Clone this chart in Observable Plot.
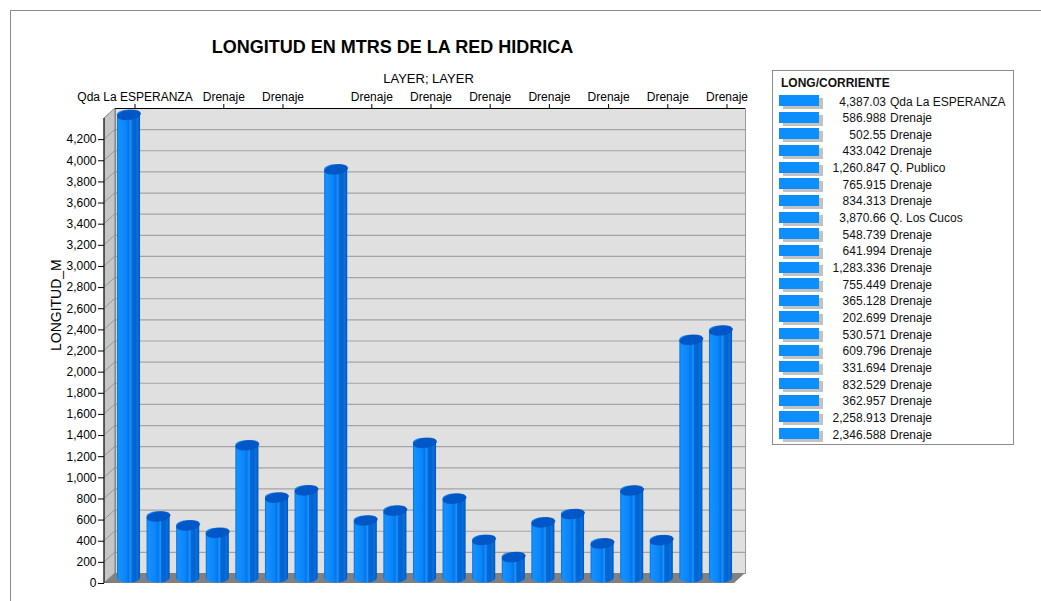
<!DOCTYPE html>
<html><head><meta charset="utf-8">
<script src="https://cdn.jsdelivr.net/npm/d3@7"></script>
<script src="https://cdn.jsdelivr.net/npm/@observablehq/plot@0.6"></script>
<style>
body{margin:0;background:#fff;font-family:"Liberation Sans",Arial,sans-serif;}
#wrap{position:relative;width:1041px;height:601px;overflow:hidden;background:#fff;}
#frameline{position:absolute;left:10px;top:10px;width:1100px;height:700px;border-top:1px solid #8c8c8c;border-left:1px solid #8c8c8c;}
#chart{position:absolute;left:0;top:0;}
.legend{position:absolute;left:772px;top:70px;width:242px;height:375px;border:1px solid #8c8c8c;box-sizing:border-box;font-size:12px;color:#111;}
.legend .lt{position:absolute;left:8px;top:5px;font-weight:bold;line-height:14px;white-space:nowrap;}
.legend .sw{position:absolute;left:6px;width:40px;height:11px;background:#0c8ffb;box-shadow:4px 3px 0 #c2c2c2;}
.legend .val{position:absolute;left:40px;width:73px;text-align:right;line-height:14px;white-space:nowrap;}
.legend .lab{position:absolute;left:117px;line-height:14px;white-space:nowrap;}
</style></head>
<body><div id="wrap"><div id="frameline"></div><div id="chart"></div></div>
<script>
const names = ["Qda La ESPERANZA","Drenaje","Drenaje","Drenaje","Q. Publico","Drenaje","Drenaje","Q. Los Cucos","Drenaje","Drenaje","Drenaje","Drenaje","Drenaje","Drenaje","Drenaje","Drenaje","Drenaje","Drenaje","Drenaje","Drenaje","Drenaje"];
const values = [4387.03,586.988,502.55,433.042,1260.847,765.915,834.313,3870.66,548.739,641.994,1283.336,755.449,365.128,202.699,530.571,609.796,331.694,832.529,362.957,2258.913,2346.588];
const valueLabels = ["4,387.03","586.988","502.55","433.042","1,260.847","765.915","834.313","3,870.66","548.739","641.994","1,283.336","755.449","365.128","202.699","530.571","609.796","331.694","832.529","362.957","2,258.913","2,346.588"];
const yTicks = d3.range(0, 4201, 200);
const yMax = 4400;
const topTickIdx = [0,3,5,8,10,12,14,16,18,20];
const title = "LONGITUD EN MTRS DE LA RED HIDRICA";
const xLabel = "LAYER; LAYER";
const yLabel = "LONGITUD_M";
const legendTitle = "LONG/CORRIENTE";

const data = values.map((v, i) => ({i, v, name: names[i]}));
const DX = 11, DY = -10;

function defs() {
  const d = d3.create("svg:defs");
  const g = d.append("linearGradient").attr("id", "cyl").attr("x1", 0).attr("x2", 1).attr("y1", 0).attr("y2", 0);
  [[0,"#006fe0"],[0.07,"#1590ff"],[0.38,"#0a86fa"],[0.5,"#0078ec"],[0.6,"#2690f6"],[0.65,"#006ad9"],[0.8,"#0063d2"],[0.88,"#0b70de"],[1,"#0057c2"]]
    .forEach(([o,c]) => g.append("stop").attr("offset", o).attr("stop-color", c));
  return d.node();
}

function walls(index, scales, vals, dim) {
  const y = scales.y;
  const x0 = dim.marginLeft, x1 = dim.width - dim.marginRight;
  const y0 = y(0), yT = y(yMax);
  const g = d3.create("svg:g");
  g.append("path").attr("d", `M${x0},${yT}L${x0+DX},${yT+DY}L${x0+DX},${y0+DY}L${x0},${y0}Z`)
    .attr("fill", "#c6c6c6").attr("stroke", "#6e6e6e").attr("stroke-width", 0.8);
  yTicks.forEach(v => {
    if (v === 0) return;
    g.append("line").attr("x1", x0).attr("y1", y(v)).attr("x2", x0+DX).attr("y2", y(v)+DY)
      .attr("stroke", "#8a8a8a").attr("stroke-width", 0.8);
  });
  g.append("path").attr("d", `M${x0},${y0}L${x0+DX},${y0+DY}L${x1+DX},${y0+DY}L${x1},${y0}Z`)
    .attr("fill", "#808080");
  g.append("line").attr("x1", x0).attr("x2", x0).attr("y1", yT).attr("y2", y0).attr("stroke", "#000");
  return g.node();
}

const ellipseSym = {
  draw(ctx) {
    const a = 11.6, b = 4.6, k = 0.5523;
    ctx.moveTo(a, 0);
    ctx.bezierCurveTo(a, b*k, a*k, b, 0, b);
    ctx.bezierCurveTo(-a*k, b, -a, b*k, -a, 0);
    ctx.bezierCurveTo(-a, -b*k, -a*k, -b, 0, -b);
    ctx.bezierCurveTo(a*k, -b, a, -b*k, a, 0);
    ctx.closePath();
  }
};

const chart = Plot.plot({
  width: 1041, height: 601,
  marginLeft: 104, marginRight: 307, marginTop: 118, marginBottom: 18,
  style: {fontFamily: "'Liberation Sans', Arial, sans-serif", fontSize: "12px", color: "#000", background: "transparent", overflow: "visible"},
  x: {type: "band", domain: d3.range(values.length), range: [113.7, 735.3], paddingInner: 0.22, paddingOuter: 0.11, round: false},
  y: {domain: [0, yMax]},
  marks: [
    defs,
    Plot.frame({fill: "#e0e0e0", stroke: "#9a9a9a", dx: DX, dy: DY}),
    Plot.ruleY(yTicks.filter(v => v > 0), {dx: DX, dy: DY, stroke: "#a4a4a4", strokeWidth: 1.2}),
    Plot.ruleY([yMax], {dx: DX, dy: DY, stroke: "#000"}),
    walls,
    Plot.barY(data, {x: "i", y: "v", fill: "url(#cyl)", rx: 11.55, ry: 4.6, insetTop: -4.6, insetBottom: -4.6, dy: -5}),
    Plot.dot(data, {x: "i", y: "v", symbol: ellipseSym, r: 5, rotate: -8, fill: "#0058c8", stroke: "#004fb4", strokeWidth: 0.6, dy: -5}),
    Plot.axisY({ticks: yTicks, tickFormat: d3.format(","), tickSize: 6, tickPadding: 2, fontSize: 12, label: null}),
    Plot.axisX({anchor: "top", ticks: topTickIdx, tickFormat: i => names[i], tickSize: 5, tickPadding: 3, fontSize: 12, label: null, dx: 6, dy: DY}),
    Plot.text([title], {text: d => d, frameAnchor: "top", dx: -27, dy: -71, lineAnchor: "middle", fontSize: 18, fontWeight: "bold"}),
    Plot.text([xLabel], {text: d => d, frameAnchor: "top", dx: 9, dy: -39.5, lineAnchor: "middle", fontSize: 13}),
    Plot.text([yLabel], {text: d => d, frameAnchor: "left", dx: -48, rotate: -90, fontSize: 14})
  ]
});
document.getElementById("chart").appendChild(chart);

const leg = document.createElement("div");
leg.className = "legend";
const lt = document.createElement("div"); lt.className = "lt"; lt.textContent = legendTitle; leg.appendChild(lt);
values.forEach((v, i) => {
  const top = 24 + 16.65 * i;
  const sw = document.createElement("div"); sw.className = "sw"; sw.style.top = top + "px"; leg.appendChild(sw);
  const val = document.createElement("div"); val.className = "val"; val.style.top = (top - 0.5) + "px"; val.textContent = valueLabels[i]; leg.appendChild(val);
  const lab = document.createElement("div"); lab.className = "lab"; lab.style.top = (top - 0.5) + "px"; lab.textContent = names[i]; leg.appendChild(lab);
});
document.getElementById("wrap").appendChild(leg);
</script>
</body></html>
